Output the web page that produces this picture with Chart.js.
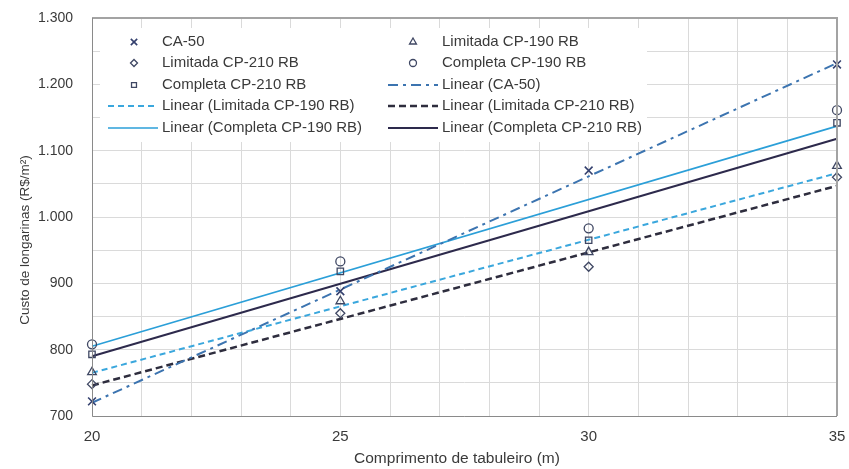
<!DOCTYPE html>
<html>
<head>
<meta charset="utf-8">
<script src="https://cdn.jsdelivr.net/npm/chart.js@4/dist/chart.umd.min.js"></script>
<style>
html,body{margin:0;padding:0;background:#fff;}
canvas{display:block;}
</style>
</head>
<body>
<canvas id="c" width="849" height="469"></canvas>
<script>
// ---- data ----
const comprimentos = [20, 25, 30, 35];
const ca50 = [722, 888, 1070, 1230];
const limitada190 = [766, 873, 947, 1077];
const limitada210 = [748, 855, 925, 1060];
const completa190 = [808, 933, 983, 1161];
const completa210 = [793, 918, 965, 1142];
// trend line end values (at 20 m and at 35 m)
const trendX = [20, 35];
const trendCa50 = [720, 1232];
const trendLimitada190 = [765, 1066];
const trendLimitada210 = [746, 1047];
const trendCompleta190 = [805, 1137];
const trendCompleta210 = [790, 1118];
const yTicks = [700, 800, 900, 1000, 1100, 1200, 1300];
const xTicks = [20, 25, 30, 35];

const FONT = "'Liberation Sans', Arial, sans-serif";
const markerColor = '#3f4763';

function pts(xs, ys){ return xs.map((x,i)=>({x:x, y:ys[i]})); }
function fmt(v){
  if (v >= 1000) return Math.floor(v/1000) + '.' + String(v % 1000).padStart(3,'0');
  return String(v);
}

const scatterDs = (label, data, style, extra) => Object.assign({
  type:'scatter', label, data: pts(comprimentos, data), showLine:false, clip:false,
  pointStyle: style, pointRadius: 4.5, pointBorderWidth: 1.3,
  borderColor: markerColor, backgroundColor: 'rgba(0,0,0,0)',
  pointBackgroundColor: 'rgba(255,255,255,0)', pointBorderColor: markerColor, order: 1
}, extra || {});
const trendDs = (label, data, color, width, dash) => ({
  type:'line', label, data: pts(trendX, data), borderColor: color, borderWidth: width, clip:false,
  borderDash: dash, pointRadius: 0, fill:false, tension:0, order: 2
});

const datasets = [
  scatterDs('CA-50', ca50, 'crossRot', {pointRadius:5.5, pointBorderWidth:1.6, pointBorderColor:'#34406e', borderColor:'#34406e'}),
  scatterDs('Limitada CP-190 RB', limitada190, 'triangle', {pointRadius:5}),
  scatterDs('Limitada CP-210 RB', limitada210, 'rectRot'),
  scatterDs('Completa CP-190 RB', completa190, 'circle'),
  scatterDs('Completa CP-210 RB', completa210, 'rect', {pointRadius:4.5}),
  trendDs('Linear (CA-50)', trendCa50, '#3c74b0', 2, [10,5,3,5]),
  trendDs('Linear (Limitada CP-190 RB)', trendLimitada190, '#3aa7dd', 2, [6,4]),
  trendDs('Linear (Limitada CP-210 RB)', trendLimitada210, '#2e2d3e', 2.5, [7,4]),
  trendDs('Linear (Completa CP-190 RB)', trendCompleta190, '#2b9fd8', 1.6, []),
  trendDs('Linear (Completa CP-210 RB)', trendCompleta210, '#2d2a4c', 2, [])
];

const customPlugin = {
  id: 'custom',
  afterDatasetsDraw(chart){
    const ctx = chart.ctx, a = chart.chartArea;
    ctx.save();
    // border
    ctx.strokeStyle = '#a3a3a3'; ctx.lineWidth = 2;
    ctx.beginPath(); ctx.moveTo(a.left, a.top); ctx.lineTo(a.right, a.top); ctx.lineTo(a.right, a.bottom); ctx.stroke();
    ctx.strokeStyle = '#8a8a8a'; ctx.lineWidth = 1;
    ctx.beginPath(); ctx.moveTo(a.left+0.5, a.top); ctx.lineTo(a.left+0.5, a.bottom+0.5); ctx.lineTo(a.right, a.bottom+0.5); ctx.stroke();

    // legend box
    ctx.fillStyle = '#ffffff';
    ctx.fillRect(100, 28, 547, 114);
    const rows = [42, 63, 85, 106, 128];
    const cols = [{line0:108, line1:158, mark:134, text:162}, {line0:388, line1:438, mark:413, text:442}];
    ctx.textBaseline = 'middle';
    ctx.textAlign = 'left';
    chart.data.datasets.forEach((ds, i) => {
      const r = rows[Math.floor(i/2)], c = cols[i%2];
      if (ds.type === 'scatter') {
        ctx.save();
        ctx.strokeStyle = ds.pointBorderColor; ctx.fillStyle = 'rgba(0,0,0,0)';
        ctx.lineWidth = ds.pointBorderWidth;
        Chart.helpers.drawPoint(ctx, {pointStyle: ds.pointStyle, radius: ds.pointRadius - 1, borderWidth: ds.pointBorderWidth}, c.mark, r);
        ctx.restore();
      } else {
        ctx.save();
        ctx.strokeStyle = ds.borderColor; ctx.lineWidth = ds.borderWidth;
        ctx.setLineDash(ds.borderDash || []);
        ctx.beginPath(); ctx.moveTo(c.line0, r); ctx.lineTo(c.line1, r); ctx.stroke();
        ctx.restore();
      }
      ctx.fillStyle = '#3a3a3a';
      ctx.font = '15px ' + FONT;
      ctx.fillText(ds.label, c.text, r);
    });

    // axis titles
    ctx.fillStyle = '#3a3a3a';
    ctx.textAlign = 'center';
    ctx.textBaseline = 'middle';
    ctx.font = '15.5px ' + FONT;
    ctx.fillText('Comprimento de tabuleiro (m)', 457, 459);
    ctx.save();
    ctx.translate(25, 240);
    ctx.rotate(-Math.PI/2);
    ctx.font = '13.5px ' + FONT;
    ctx.fillText('Custo de longarinas (R$/m²)', 0, 0);
    ctx.restore();
    ctx.restore();
  }
};

new Chart(document.getElementById('c'), {
  type: 'scatter',
  data: { datasets },
  options: {
    responsive: false,
    animation: false,
    devicePixelRatio: 1,
    layout: { padding: { left: 0, top: 18, right: 12, bottom: 0 } },
    plugins: { legend: { display: false }, tooltip: { enabled: false } },
    scales: {
      x: {
        type: 'linear', min: xTicks[0], max: xTicks[xTicks.length-1],
        border: { display: false },
        grid: { color: '#dadada', lineWidth: 1, drawTicks: false },
        ticks: {
          stepSize: 1, autoSkip: false, maxRotation: 0, padding: 12,
          color: '#3a3a3a', font: { family: FONT, size: 15 },
          callback: v => xTicks.includes(v) ? String(v) : ''
        },
        afterFit: s => { s.height = 53; s.paddingLeft = 0; s.paddingRight = 0; }
      },
      y: {
        type: 'linear', min: yTicks[0], max: yTicks[yTicks.length-1],
        border: { display: false },
        grid: { color: '#dadada', lineWidth: 1, drawTicks: false },
        ticks: {
          stepSize: 50, autoSkip: false, padding: 19,
          color: '#3a3a3a', font: { family: FONT, size: 14 },
          callback: v => yTicks.includes(v) ? fmt(v) : ''
        },
        afterFit: s => { s.width = 92; s.paddingTop = 0; s.paddingBottom = 0; }
      }
    }
  },
  plugins: [customPlugin]
});
</script>
</body>
</html>
